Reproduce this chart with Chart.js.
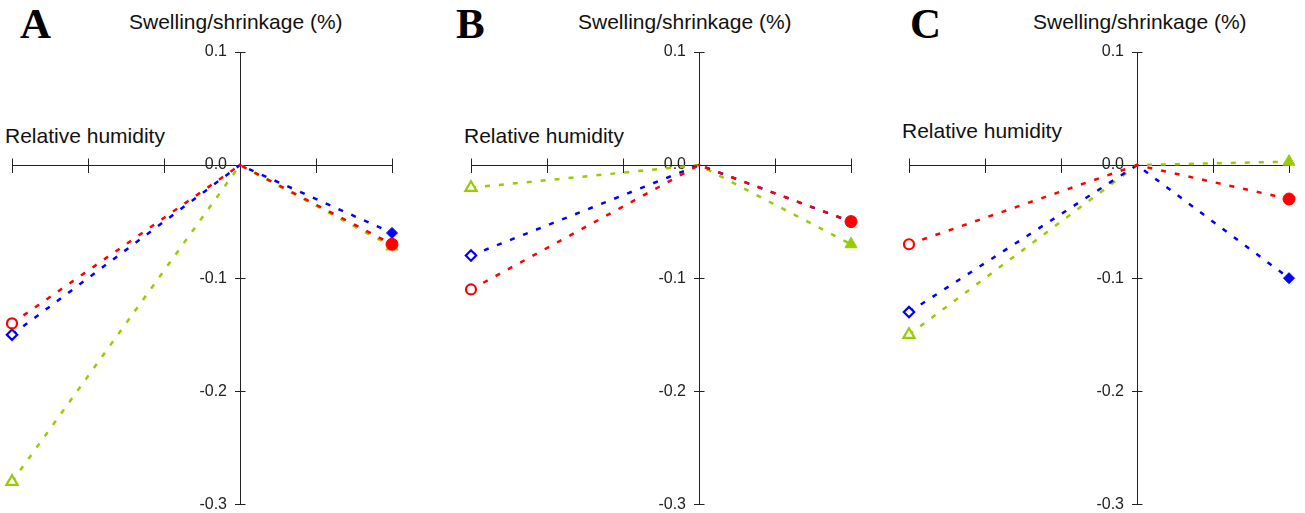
<!DOCTYPE html>
<html>
<head>
<meta charset="utf-8">
<script src="https://cdn.jsdelivr.net/npm/chart.js@4.4.1/dist/chart.umd.min.js"></script>
<style>
  html, body { margin: 0; padding: 0; background: #fff; overflow: hidden; width: 1305px; height: 513px; }
  canvas { position: absolute; top: 0; }
  .t { position: absolute; white-space: nowrap; font-family: "Liberation Sans", Arial, sans-serif; font-size: 21px; line-height: 21px; color: #111; }
  .L { position: absolute; white-space: nowrap; font-family: "Liberation Serif", "Times New Roman", serif; font-weight: bold; font-size: 43px; line-height: 43px; color: #000; }
</style>
</head>
<body>
<div class="L" style="left:20px;top:2px">A</div>
<div class="L" style="left:456px;top:2px">B</div>
<div class="L" style="left:910px;top:2px">C</div>
<div class="t" style="left:129px;top:11px">Swelling/shrinkage (%)</div>
<div class="t" style="left:578px;top:11px">Swelling/shrinkage (%)</div>
<div class="t" style="left:1033px;top:11px">Swelling/shrinkage (%)</div>
<div class="t" style="left:5px;top:125px">Relative humidity</div>
<div class="t" style="left:464px;top:125px">Relative humidity</div>
<div class="t" style="left:902px;top:120px">Relative humidity</div>
<canvas id="cA" width="440" height="513" style="left:0px"></canvas>
<canvas id="cB" width="440" height="513" style="left:440px"></canvas>
<canvas id="cC" width="425" height="513" style="left:880px"></canvas>
<script>
// ---- data ----
const xValues = [-3, 0, 2];
const yTickValues = [0.1, 0.0, -0.1, -0.2, -0.3];

const A_red   = [-0.14, 0, -0.07];
const A_blue  = [-0.15, 0, -0.06];
const A_green = [-0.28, 0, -0.072];

const B_red   = [-0.11, 0, -0.05];
const B_blue  = [-0.08, 0, -0.05];
const B_green = [-0.02, 0, -0.07];

const C_red   = [-0.07, 0, -0.03];
const C_blue  = [-0.13, 0, -0.10];
const C_green = [-0.15, 0, 0.003];

// ---- styles ----
const RED = '#ff0000', BLUE = '#0000ff', GREEN = '#99cc00', AXIS = '#222222';
const Y_LABEL_GAP = 13;

function pts(vals) { return xValues.map((x, i) => ({ x: x, y: vals[i] })); }

function ds(vals, color, style, openR, midR, fillR) {
  return {
    data: pts(vals),
    borderColor: color,
    borderWidth: 2.5,
    borderDash: [5, 9],
    fill: false,
    tension: 0,
    clip: false,
    pointStyle: style,
    pointRadius: [openR, midR, fillR],
    pointBorderWidth: [2.2, 0, 1],
    pointBorderColor: color,
    pointBackgroundColor: ['#ffffff', color, color]
  };
}

function align(p) { return Math.round(p - 0.5) + 0.5; }

const axisExtras = {
  id: 'axisExtras',
  beforeDraw(chart) {
    // shift the y-axis tick labels to the left of the tick marks
    const items = chart.scales.y.getLabelItems();
    items.forEach(it => {
      if (!it._shifted) { it.options.translation[0] -= Y_LABEL_GAP; it._shifted = true; }
    });
  },
  beforeDatasetsDraw(chart) {
    const { ctx, scales: { x, y } } = chart;
    const x0 = align(x.getPixelForValue(0));
    const y0 = align(y.getPixelForValue(0));
    ctx.save();
    ctx.strokeStyle = AXIS;
    ctx.lineWidth = 1;
    ctx.beginPath();
    x.ticks.forEach(t => {
      const px = align(x.getPixelForValue(t.value));
      ctx.moveTo(px, y0 - 7); ctx.lineTo(px, y0);
    });
    y.ticks.forEach(t => {
      const py = align(y.getPixelForValue(t.value));
      ctx.moveTo(x0, py); ctx.lineTo(x0 + 5, py);
    });
    ctx.stroke();
    ctx.restore();
  }
};

function makeChart(id, red, blue, green, padL, padR) {
  new Chart(document.getElementById(id), {
    type: 'line',
    data: {
      datasets: [
        ds(red, RED, 'circle', 5, 1.5, 6),
        ds(blue, BLUE, 'rectRot', 5.2, 0, 5.5),
        ds(green, GREEN, 'triangle', 6.5, 0, 7)
      ]
    },
    options: {
      responsive: false,
      animation: false,
      events: [],
      layout: { padding: { left: padL, right: padR, top: 52, bottom: 7 } },
      plugins: { legend: { display: false }, tooltip: { enabled: false }, title: { display: false } },
      scales: {
        x: {
          type: 'linear',
          min: xValues[0],
          max: xValues[xValues.length - 1],
          position: { y: 0 },
          ticks: { display: false, stepSize: 1 },
          grid: { drawOnChartArea: false, drawTicks: true, tickLength: 7, color: AXIS, lineWidth: 1 },
          border: { display: true, color: AXIS, width: 1 }
        },
        y: {
          type: 'linear',
          min: yTickValues[yTickValues.length - 1],
          max: yTickValues[0],
          position: { x: 0 },
          afterBuildTicks: (scale) => { scale.ticks = yTickValues.map(v => ({ value: v })); },
          ticks: {
            padding: 0,
            color: AXIS,
            font: { family: 'Liberation Sans', size: 16, lineHeight: 0.8 },
            callback: (v) => Number(v).toFixed(1)
          },
          grid: { drawOnChartArea: false, drawTicks: true, tickLength: 5, color: AXIS, lineWidth: 1 },
          border: { display: true, color: AXIS, width: 1 }
        }
      }
    },
    plugins: [axisExtras]
  });
}

makeChart('cA', A_red, A_blue, A_green, 12, 48);
makeChart('cB', B_red, B_blue, B_green, 31, 29);
makeChart('cC', C_red, C_blue, C_green, 29, 16);
</script>
</body>
</html>
